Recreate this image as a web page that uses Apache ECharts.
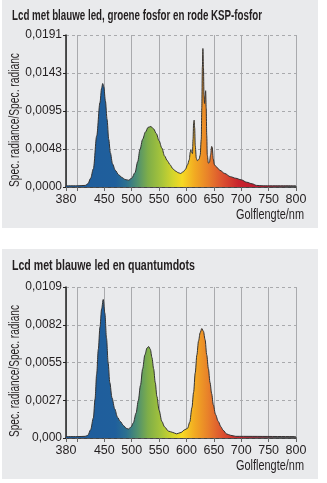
<!DOCTYPE html>
<html><head><meta charset="utf-8">
<script src="https://cdn.jsdelivr.net/npm/echarts@6/dist/echarts.min.js"></script>
<style>html,body{margin:0;padding:0;background:#fff}#c{width:327px;height:483px}</style>
</head><body><div id="c"></div>
<script>
// ---- Data ----
const title1 = 'Lcd met blauwe led, groene fosfor en rode KSP-fosfor';
const title2 = 'Lcd met blauwe led en quantumdots';
const yName = 'Spec. radiance/Spec. radianc';
const xName = 'Golflengte/nm';
const xTickValues = [380, 400, 450, 500, 550, 600, 650, 700, 750, 800];
const xLabelValues = [380, 450, 500, 550, 600, 650, 700, 750, 800];
const yMax1 = 0.0191;
const yLabels1 = ['0,0000', '0,0048', '0,0095', '0,0143', '0,0191'];
const yMax2 = 0.0109;
const yLabels2 = ['0,000', '0,0027', '0,0055', '0,0082', '0,0109'];

// Chart 1: blue LED + green phosphor + red KSP phosphor
const wl1 = [380,400,415,420,425,430,436,442,445,447,449,452,455,458,461,465,470,476,482,488,494,500,506,511,515,520,525,530,535,540,545,550,555,560,565,570,575,580,585,589,594,598,602,605,607,608,609,611,612,613,614,615,616,618,620,623,625,627,628,629,630,631,632,633,634,635,636,637,638,640,642,644,646,647,649,651,655,661,670,680,690,700,710,720,728,740,800];
const val1 = [0.00015,0.00015,0.0002,0.0004,0.0011,0.0023,0.0064,0.0106,0.0124,0.0130,0.0126,0.0108,0.0085,0.0060,0.0043,0.0029,0.0021,0.00155,0.0012,0.00095,0.00085,0.0011,0.0018,0.0032,0.0047,0.0060,0.0069,0.0075,0.0076,0.0073,0.0067,0.0058,0.0049,0.0039,0.0033,0.0028,0.0023,0.0020,0.0018,0.0017,0.0019,0.0022,0.0028,0.0034,0.0044,0.0047,0.0044,0.0042,0.0060,0.0080,0.0084,0.0074,0.0052,0.0036,0.0033,0.0035,0.0040,0.0060,0.0100,0.0150,0.0174,0.0150,0.0115,0.0105,0.0115,0.0121,0.0100,0.0065,0.0040,0.0030,0.0031,0.0040,0.0051,0.0050,0.0035,0.0028,0.0025,0.0021,0.0017,0.0013,0.0011,0.0009,0.0006,0.0004,0.0002,0.00015,0.00015];

// Chart 2: blue LED + quantum dots
const wl2 = [380,400,415,420,425,430,433,436,439,442,445,448,451,454,457,460,464,469,474,479,485,490,494,499,503,508,512,516,520,524,528,531,534,537,540,543,546,550,555,560,567,575,582,590,597,602,606,610,613,616,619,622,625,628,631,634,637,640,643,646,649,653,658,663,667,673,680,690,800];
const val2 = [0.0001,0.0001,0.00012,0.0002,0.0006,0.00145,0.0028,0.0046,0.0064,0.0080,0.0093,0.0100,0.0090,0.0072,0.0054,0.0040,0.0029,0.0021,0.0015,0.0012,0.0009,0.0007,0.00065,0.0008,0.0011,0.0018,0.0027,0.0038,0.0050,0.0060,0.0065,0.0066,0.0064,0.0058,0.0050,0.0040,0.0030,0.0020,0.0012,0.0008,0.0005,0.0004,0.0003,0.0004,0.0006,0.0007,0.00115,0.0022,0.0033,0.0047,0.0060,0.0070,0.0076,0.0079,0.0077,0.0071,0.0060,0.0050,0.0040,0.0032,0.0024,0.0017,0.0012,0.0008,0.00056,0.0003,0.0002,0.00012,0.0001];

// spectrum colour stops (wavelength -> colour)
const specWl = [380, 470, 490, 510, 530, 555, 575, 592, 615, 640, 665, 695, 730, 800];
const specCol = ['#1f5c9c','#1f5f9c','#2c7090','#4f9070','#7fae48','#a8c53a','#d3d52c','#f6d923','#f2aa22','#e8802a','#dc5230','#c9242d','#bd1a30','#b81830'];

const FONT = '"Liberation Sans Narrow","Liberation Sans",sans-serif';
const TXT = '#231f20';
const GRIDC = '#a9aaad';

const mctx = document.createElement('canvas').getContext('2d');
function fitScale(text, font, target) {
  mctx.font = font;
  return target / mctx.measureText(text).width;
}
function condText(text, x, y, size, bold, target, align, rot) {
  const font = (bold ? 'bold ' : '') + size + 'px ' + FONT;
  return {
    type: 'text', x: x, y: y, rotation: rot || 0,
    scaleX: fitScale(text, font, target), scaleY: 1, z: 20,
    style: { text: text, x: 0, y: 0, font: font, fill: TXT, align: align, verticalAlign: 'middle' }
  };
}

function gradient() {
  return new echarts.graphic.LinearGradient(0, 0, 1, 0,
    specWl.map((w, i) => ({ offset: (w - 380) / 420, color: specCol[i] })));
}

function xAxis(gi) {
  return {
    type: 'value', gridIndex: gi, min: 380, max: 800,
    axisLine: { show: true, onZero: false, lineStyle: { color: '#222', width: 1.5 } },
    axisTick: { show: true, length: 4, customValues: xTickValues, lineStyle: { color: '#666' } },
    axisLabel: { customValues: xLabelValues, fontFamily: FONT, fontSize: 12.5, color: TXT, margin: 6 },
    splitLine: { show: true, lineStyle: { color: GRIDC, width: 1, type: 'solid' } }
  };
}
function yAxis(gi, max, labels) {
  return {
    type: 'value', gridIndex: gi, min: 0, max: max, interval: max / 4,
    axisLine: { show: true, lineStyle: { color: '#222', width: 1.5 } },
    axisTick: { show: true, length: 3, lineStyle: { color: '#222' } },
    axisLabel: { fontFamily: FONT, fontSize: 12, color: TXT, margin: 4,
      formatter: (v) => labels[Math.round(v / max * 4)] },
    splitLine: { show: true, lineStyle: { color: GRIDC, width: 1, type: [3, 3] } }
  };
}
function series(gi, wl, val) {
  return {
    type: 'line', xAxisIndex: gi, yAxisIndex: gi,
    data: wl.map((w, i) => [w, val[i]]),
    showSymbol: false, smooth: 0.3, smoothMonotone: 'x',
    lineStyle: { color: '#333', width: 1 },
    areaStyle: { color: gradient(), opacity: 1 },
    z: 3
  };
}

const chart = echarts.init(document.getElementById('c'), null, { renderer: 'canvas' });
chart.setOption({
  animation: false,
  backgroundColor: '#ffffff',
  graphic: [
    { type: 'rect', shape: { x: 2, y: 0, width: 316, height: 228 }, style: { fill: '#e9eaec' }, z: -10 },
    { type: 'rect', shape: { x: 2, y: 249, width: 316, height: 230 }, style: { fill: '#e9eaec' }, z: -10 },
    condText(title1, 12, 16, 14, true, 250, 'left'),
    condText(title2, 12, 266, 14, true, 183, 'left'),
    condText(yName, 15, 120, 14, false, 134, 'center', Math.PI / 2),
    condText(yName, 15, 371, 14, false, 132, 'center', Math.PI / 2),
    condText(xName, 304, 215, 14, false, 68, 'right'),
    condText(xName, 304, 466, 14, false, 68, 'right')
  ],
  grid: [
    { left: 66, top: 35, width: 230, height: 152, show: false },
    { left: 66, top: 287, width: 230, height: 151, show: false }
  ],
  xAxis: [xAxis(0), xAxis(1)],
  yAxis: [yAxis(0, yMax1, yLabels1), yAxis(1, yMax2, yLabels2)],
  series: [series(0, wl1, val1), series(1, wl2, val2)]
});
</script></body></html>
